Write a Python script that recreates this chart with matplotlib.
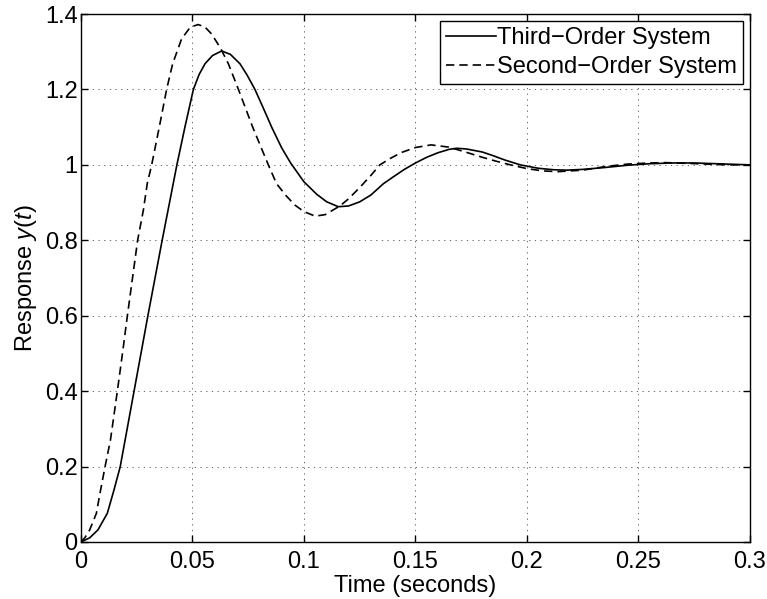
import numpy as np
import matplotlib
matplotlib.use('Agg')
import matplotlib.pyplot as plt
from matplotlib.ticker import FixedLocator, FormatStrFormatter

plt.rcParams['font.family'] = ['Liberation Sans', 'DejaVu Sans']
plt.rcParams['mathtext.fontset'] = 'custom'
plt.rcParams['mathtext.rm'] = 'Liberation Sans'
plt.rcParams['mathtext.it'] = 'Liberation Sans:italic'

# Values
t_third = [0, 0.0039, 0.0076, 0.0118, 0.0148, 0.0176, 0.0207, 0.0238, 0.0269,
           0.0300, 0.0332, 0.0364, 0.0397, 0.0430, 0.0466, 0.0504, 0.0530,
           0.0556, 0.0590, 0.0631, 0.0670, 0.0713, 0.0745, 0.0780, 0.0818,
           0.0855, 0.0900, 0.0940, 0.1000, 0.1057, 0.1102, 0.1154, 0.1200,
           0.1250, 0.1300, 0.1356, 0.1400, 0.1450, 0.1500, 0.1550, 0.1600,
           0.1650, 0.1685, 0.1730, 0.1800, 0.1850, 0.1900, 0.1970, 0.2050,
           0.2120, 0.2180, 0.2250, 0.2350, 0.2450, 0.2550, 0.2650, 0.2750,
           0.2850, 0.3000]
y_third = [0, 0.011, 0.032, 0.076, 0.138, 0.200, 0.300, 0.400, 0.500,
           0.600, 0.700, 0.800, 0.900, 1.000, 1.100, 1.200, 1.240,
           1.268, 1.290, 1.302, 1.293, 1.268, 1.238, 1.200, 1.150,
           1.100, 1.045, 1.005, 0.955, 0.922, 0.902, 0.889, 0.891,
           0.902, 0.920, 0.950, 0.968, 0.988, 1.005, 1.020, 1.032,
           1.041, 1.044, 1.042, 1.034, 1.024, 1.013, 1.000, 0.991,
           0.987, 0.986, 0.988, 0.993, 0.999, 1.003, 1.005, 1.005,
           1.003, 1.000]

t_second = [0, 0.0017, 0.0039, 0.0069, 0.0088, 0.0108, 0.0132, 0.0163, 0.0186,
            0.0208, 0.0231, 0.0254, 0.0280, 0.0297, 0.0317, 0.0351, 0.0384,
            0.0411, 0.0451, 0.0490, 0.0525, 0.0555, 0.0586, 0.0625, 0.0661,
            0.0706, 0.0770, 0.0840, 0.0877, 0.0920, 0.0960, 0.1000, 0.1050,
            0.1095, 0.1161, 0.1200, 0.1250, 0.1300, 0.1340, 0.1390, 0.1438,
            0.1500, 0.1570, 0.1650, 0.1730, 0.1800, 0.1860, 0.1926, 0.2000,
            0.2070, 0.2140, 0.2250, 0.2357, 0.2450, 0.2550, 0.2620, 0.2720,
            0.2806, 0.2900, 0.3000]
y_second = [0, 0.011, 0.032, 0.076, 0.138, 0.200, 0.270, 0.400, 0.500,
            0.600, 0.700, 0.800, 0.881, 0.950, 1.000, 1.100, 1.200,
            1.268, 1.334, 1.365, 1.372, 1.366, 1.347, 1.310, 1.268,
            1.200, 1.100, 1.000, 0.950, 0.918, 0.893, 0.876, 0.864,
            0.868, 0.891, 0.910, 0.940, 0.972, 1.000, 1.018, 1.033,
            1.046, 1.053, 1.047, 1.033, 1.020, 1.010, 1.000, 0.990,
            0.984, 0.982, 0.986, 0.996, 1.002, 1.005, 1.006, 1.004,
            1.002, 1.000, 1.000]

x_ticks = [0, 0.05, 0.1, 0.15, 0.2, 0.25, 0.3]
y_ticks = [0, 0.2, 0.4, 0.6, 0.8, 1.0, 1.2, 1.4]

fig = plt.figure(figsize=(7.67, 5.99), dpi=100)
ax = fig.add_axes([0.1056, 0.0952, 0.8722, 0.8814])

ax.plot(t_third, y_third, color='black', lw=1.2, label='Third\u2212Order System')
ax.plot(t_second, y_second, color='black', lw=1.2, linestyle=(0, (5, 3)),
        label='Second\u2212Order System')

ax.set_xlim(0, 0.3)
ax.set_ylim(0, 1.4)
ax.xaxis.set_major_locator(FixedLocator(x_ticks))
ax.yaxis.set_major_locator(FixedLocator(y_ticks))
ax.xaxis.set_major_formatter(FormatStrFormatter('%g'))
ax.yaxis.set_major_formatter(FormatStrFormatter('%g'))
ax.tick_params(direction='in', top=True, right=True, labelsize=17, length=5,
               width=1)
ax.tick_params(axis='x', pad=6.5)
ax.tick_params(axis='y', pad=2.5)
for s in ax.spines.values():
    s.set_linewidth(1.0)

ax.grid(True, color='0.3', linestyle=(0, (1.5, 5.3)), linewidth=0.6)

ax.set_xlabel('Time (seconds)', fontsize=17, labelpad=1.5)
ax.set_ylabel('Response $y(t)$', fontsize=17, labelpad=4)

leg = ax.legend(loc='upper right', fontsize=17, frameon=True, fancybox=False,
                edgecolor='black', framealpha=1, handlelength=2.1,
                borderaxespad=0.3, borderpad=0.25, labelspacing=0.3,
                handletextpad=0.05)
leg.get_frame().set_linewidth(1.0)

plt.savefig('out.png', dpi=100)
